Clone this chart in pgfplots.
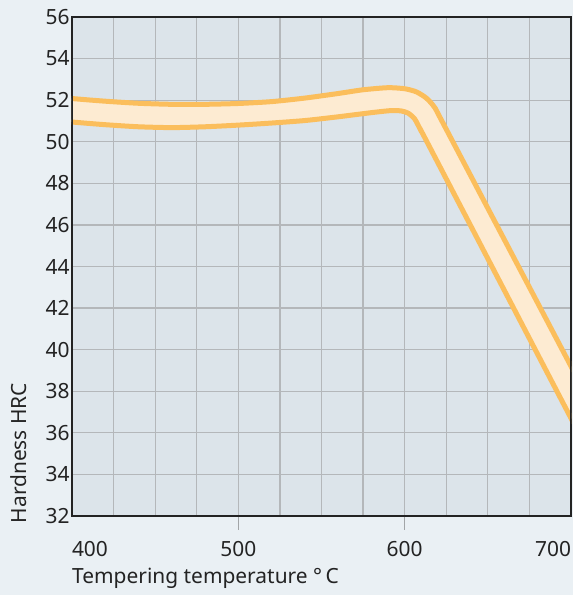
\documentclass[border=0pt]{standalone}
\usepackage{fontspec}
\setmainfont{Noto Sans}
\usepackage{pgfplots}
\pgfplotsset{compat=1.18}
\definecolor{bg}{RGB}{234,240,244}
\definecolor{plotbg}{RGB}{220,228,234}
\definecolor{gridc}{RGB}{180,183,186}
\definecolor{bandfill}{RGB}{253,235,210}
\definecolor{bandedge}{RGB}{251,190,92}
\definecolor{axc}{RGB}{35,35,35}
\begin{document}
\begin{tikzpicture}
\fill[bg] (-72bp,-79bp) rectangle (501bp,516bp);
\useasboundingbox (-72bp,-79bp) rectangle (501bp,516bp);
\begin{axis}[
  at={(0,0)}, anchor=south west,
  width=499bp, height=499bp, scale only axis,
  xmin=400, xmax=700, ymin=32, ymax=56,
  axis background/.style={fill=plotbg},
  xtick={400,500,600,700},
  xticklabels={\rlap{400},500,600,\llap{700}},
  ytick={32,34,...,56},
  minor x tick num=3,
  grid=both,
  major grid style={gridc, line width=1.2bp},
  minor grid style={gridc, line width=1.2bp},
  major tick length=0pt, minor tick length=0pt,
  xtick pos=bottom, ytick pos=left,
  axis line style={axc, line width=1.5bp},
  tick label style={font=\fontsize{21}{24}\selectfont, text=axc},
  xticklabel style={yshift=-22bp},
  yticklabel style={xshift=1bp},
  /pgf/number format/assume math mode=true,
  xlabel={Tempering temperature °\,C},
  ylabel={Hardness HRC},
  label style={font=\fontsize{21}{24}\selectfont, text=axc},
  xlabel style={at={(axis description cs:0,0)}, anchor=base west, inner sep=0pt, yshift=-67bp},
  ylabel style={at={(axis description cs:-0.0908,-0.0146)}, anchor=base west, inner sep=0pt},
]
\addplot[draw=none, fill=bandfill, smooth, tension=0.4] coordinates {
(390,52.2) (400,52.08) (420,51.95) (440,51.85) (460,51.8) (480,51.8) (500,51.84) (520,51.93) (540,52.1) (560,52.32) (575,52.5) (590,52.6) (600,52.55) (607,52.4) (613,52.1) (618,51.65) (625,50.6) (700,39.2) (710,37.7)
(710,35.2) (700,36.7) (615,49.75) (610,50.5) (606,51.1) (602,51.38) (598,51.48) (592,51.5) (580,51.4) (560,51.2) (540,51.02) (520,50.9) (500,50.8) (480,50.72) (460,50.68) (440,50.72) (420,50.82) (400,50.95) (390,51.05)
};
\addplot[bandedge, line width=5bp, smooth, tension=0.4, line cap=round, line join=round] coordinates {
(390,52.2) (400,52.08) (420,51.95) (440,51.85) (460,51.8) (480,51.8) (500,51.84) (520,51.93) (540,52.1) (560,52.32) (575,52.5) (590,52.6) (600,52.55) (607,52.4) (613,52.1) (618,51.65) (625,50.6) (700,39.2) (710,37.7)
};
\addplot[bandedge, line width=5bp, smooth, tension=0.4, line cap=round, line join=round] coordinates {
(390,51.05) (400,50.95) (420,50.82) (440,50.72) (460,50.68) (480,50.72) (500,50.8) (520,50.9) (540,51.02) (560,51.2) (580,51.4) (592,51.5) (598,51.48) (602,51.38) (606,51.1) (610,50.5) (615,49.75) (700,36.7) (710,35.2)
};
\draw[axc, line width=1.5bp] (rel axis cs:0,0) rectangle (rel axis cs:1,1);
\end{axis}
\draw[gridc!90!black, line width=1.3bp] (166.33bp,-0.75bp) -- (166.33bp,-14bp);
\draw[gridc!90!black, line width=1.3bp] (332.67bp,-0.75bp) -- (332.67bp,-14bp);
\end{tikzpicture}
\end{document}
